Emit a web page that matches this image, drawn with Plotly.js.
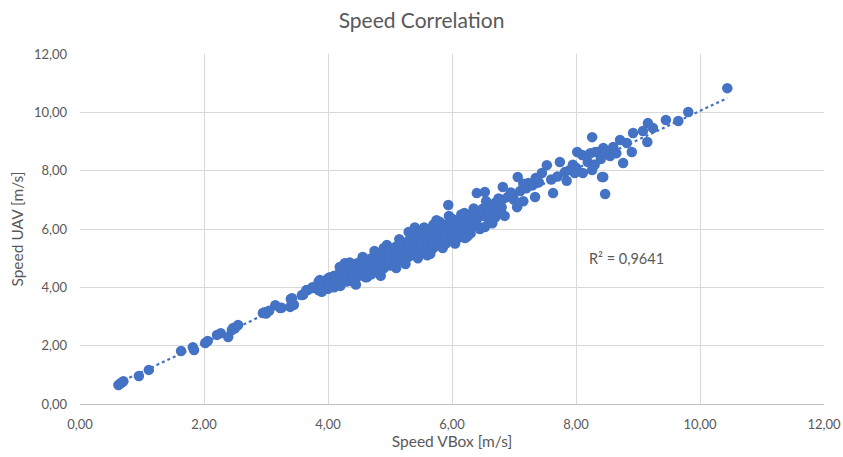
<!DOCTYPE html>
<html>
<head>
<meta charset="utf-8">
<script src="https://cdn.plot.ly/plotly-3.0.1.min.js"></script>
<style>html,body{margin:0;padding:0;background:#fff;}#chart{width:843px;height:457px;}</style>
</head>
<body>
<div id="chart"></div>
<script>
// Speed VBox [m/s]
const speedVBox = [
  0.62,0.65,0.68,0.70,0.95,1.11,1.63,1.82,1.84,2.02,2.06,2.21,2.27,2.39,2.45,2.50,2.47,2.55,
  2.95,2.98,3.15,3.23,3.42,3.39,3.58,3.66,3.76,3.87,3.98,4.03,4.19,4.27,4.47,4.56,4.63,
  3.00,3.05,3.25,3.40,3.45,3.60,3.65,3.75,3.85,3.85,
  3.90,3.90,3.90,4.00,4.00,4.00,4.10,4.10,4.10,4.20,4.20,4.20,4.20,4.30,4.30,4.30,
  4.40,4.40,4.40,4.40,4.50,4.50,4.50,4.50,4.60,4.60,4.60,4.60,4.70,4.70,4.70,4.70,
  4.80,4.80,4.80,4.80,4.80,4.90,4.90,4.90,4.90,4.90,5.00,5.00,5.00,5.00,5.00,
  5.10,5.10,5.10,5.10,5.10,5.20,5.20,5.20,5.20,5.20,5.30,5.30,5.30,5.30,5.30,
  5.40,5.40,5.40,5.40,5.40,5.50,5.50,5.50,5.50,5.50,5.60,5.60,5.60,5.60,5.60,
  5.70,5.70,5.70,5.70,5.70,5.80,5.80,5.80,5.80,5.80,5.90,5.90,5.90,5.90,5.94,
  6.00,6.00,6.00,6.00,6.00,6.10,6.10,6.10,6.10,6.20,6.20,6.20,6.20,6.21,
  6.30,6.30,6.30,6.30,6.40,6.40,6.40,6.40,6.50,6.50,6.53,6.53,6.60,6.60,6.60,
  6.70,6.70,6.70,6.73,6.80,6.80,6.80,6.82,6.90,6.98,
  7.00,7.06,7.10,7.15,7.20,7.23,7.30,7.34,7.40,7.45,7.53,7.60,7.63,7.70,7.74,7.82,7.85,7.90,7.95,7.98,
  8.00,8.02,8.10,8.11,8.19,8.23,8.26,8.26,8.30,8.31,8.34,8.40,8.42,8.44,8.44,8.47,8.50,8.55,
  8.60,8.65,8.71,8.76,8.82,8.90,8.92,9.08,9.15,9.16,9.24,9.45,9.65,9.81,10.44,
  4.35,4.55,4.75,4.95,5.15,5.35,5.55,5.75,5.95,6.15,6.35,6.55,6.75,
  4.45,4.85,5.25,5.45,5.65,5.85,6.05,6.25,6.45,6.65,6.85,7.05,6.95,7.15,7.35
];
// Speed UAV [m/s]
const speedUAV = [
  0.65,0.70,0.75,0.78,0.96,1.17,1.82,1.95,1.85,2.09,2.16,2.37,2.43,2.30,2.54,2.60,2.61,2.71,
  3.12,3.15,3.39,3.29,3.63,3.33,3.74,3.91,3.98,4.25,4.25,4.35,4.70,4.83,4.83,5.04,4.35,
  3.10,3.20,3.30,3.60,3.40,3.75,3.90,4.00,4.20,3.90,
  4.05,3.85,4.20,4.10,3.95,4.30,4.22,4.00,4.40,4.15,4.35,4.55,4.05,4.40,4.20,4.60,
  4.50,4.30,4.75,4.20,4.55,4.40,4.80,4.65,4.70,4.50,4.90,4.35,4.75,4.60,5.00,4.45,
  4.85,4.70,5.10,4.55,4.95,5.00,4.80,5.20,4.65,5.35,5.05,4.90,5.30,4.75,5.15,
  5.15,5.00,5.40,4.85,4.66,5.25,5.10,5.50,4.95,5.35,5.35,5.20,5.60,5.05,5.90,
  5.45,5.30,5.70,5.10,6.05,5.55,5.40,5.75,5.20,5.95,5.65,5.50,5.85,5.25,5.10,
  5.70,5.55,5.95,5.35,6.15,5.80,5.65,6.05,5.45,6.25,5.90,5.75,6.15,5.50,6.82,
  6.00,5.85,6.20,5.60,6.35,6.10,5.90,6.30,5.70,6.15,6.00,6.40,6.55,5.69,
  6.25,6.05,6.50,5.85,6.35,6.15,6.60,7.23,6.45,6.70,6.07,7.27,6.55,6.30,6.80,
  6.65,6.40,6.90,6.55,6.75,6.55,7.00,7.44,7.10,7.10,
  7.00,7.78,7.30,6.95,7.40,7.58,7.50,7.10,7.60,7.92,8.19,7.70,7.23,7.80,8.30,7.95,7.65,8.02,8.20,7.92,
  8.10,8.64,8.54,7.92,8.30,8.60,9.15,8.02,8.20,8.64,8.64,8.40,7.78,8.78,7.78,7.20,8.64,8.50,
  8.81,8.60,9.05,8.26,8.95,8.64,9.29,9.36,8.98,9.63,9.46,9.74,9.70,10.01,10.83,
  4.85,4.95,5.25,5.45,5.65,5.80,6.05,6.30,6.45,6.50,6.70,6.95,7.05,
  4.10,4.40,4.80,5.00,5.15,5.35,5.50,5.75,6.00,6.20,6.45,6.75,7.25,7.55,7.75
];
const rSquaredLabel = 'R² = 0,9641';

// linear least-squares trendline over data range
const n = speedVBox.length;
let sx=0, sy=0, sxx=0, sxy=0;
for (let i=0;i<n;i++){ sx+=speedVBox[i]; sy+=speedUAV[i]; sxx+=speedVBox[i]*speedVBox[i]; sxy+=speedVBox[i]*speedUAV[i]; }
const slope = (n*sxy - sx*sy)/(n*sxx - sx*sx);
const intercept = (sy - slope*sx)/n;
const xmin = Math.min(...speedVBox), xmax = Math.max(...speedVBox);
const trendX = [xmin, xmax];
const trendY = trendX.map(v => slope*v + intercept);

const blue = '#4472C4';
const data = [
  { type:'scatter', mode:'lines', x:trendX, y:trendY, line:{color:blue, width:2.2, dash:'dot'}, hoverinfo:'skip', showlegend:false },
  { type:'scatter', mode:'markers', x:speedVBox, y:speedUAV, marker:{color:blue, size:10.5, line:{width:0}}, showlegend:false }
];
const font = 'Lato, "Noto Sans", sans-serif';
const layout = {
  width:843, height:457,
  margin:{l:80, r:19, t:54, b:53},
  paper_bgcolor:'#fff', plot_bgcolor:'#fff',
  separators:', ',
  font:{family:font, color:'#595959', size:13},
  title:{text:'Speed Correlation', font:{family:font, size:21, color:'#595959'}, x:0.5, xanchor:'center', y:0.955, yanchor:'middle'},
  xaxis:{range:[0,12], dtick:2, tick0:0, tickformat:'.2f', showgrid:true, gridcolor:'#d9d9d9', gridwidth:1,
         zeroline:false, showline:true, linecolor:'#bfbfbf', linewidth:1, ticks:'', ticklabelstandoff:8,
         title:{text:'Speed VBox [m/s]', font:{family:font, size:15.5, color:'#595959'}, standoff:5}},
  yaxis:{range:[0,12], dtick:2, tick0:0, tickformat:'.2f', showgrid:true, gridcolor:'#d9d9d9', gridwidth:1,
         zeroline:false, showline:false, ticks:'', ticklabelstandoff:12,
         title:{text:'Speed UAV [m/s]', font:{family:font, size:15.5, color:'#595959'}, standoff:6}},
  annotations:[{x:8.18, y:5.0, xref:'x', yref:'y', text:rSquaredLabel, showarrow:false, xanchor:'left', yanchor:'middle',
                font:{family:font, size:14.5, color:'#595959'}}]
};
Plotly.newPlot('chart', data, layout, {displayModeBar:false, staticPlot:true});
</script>
</body>
</html>
